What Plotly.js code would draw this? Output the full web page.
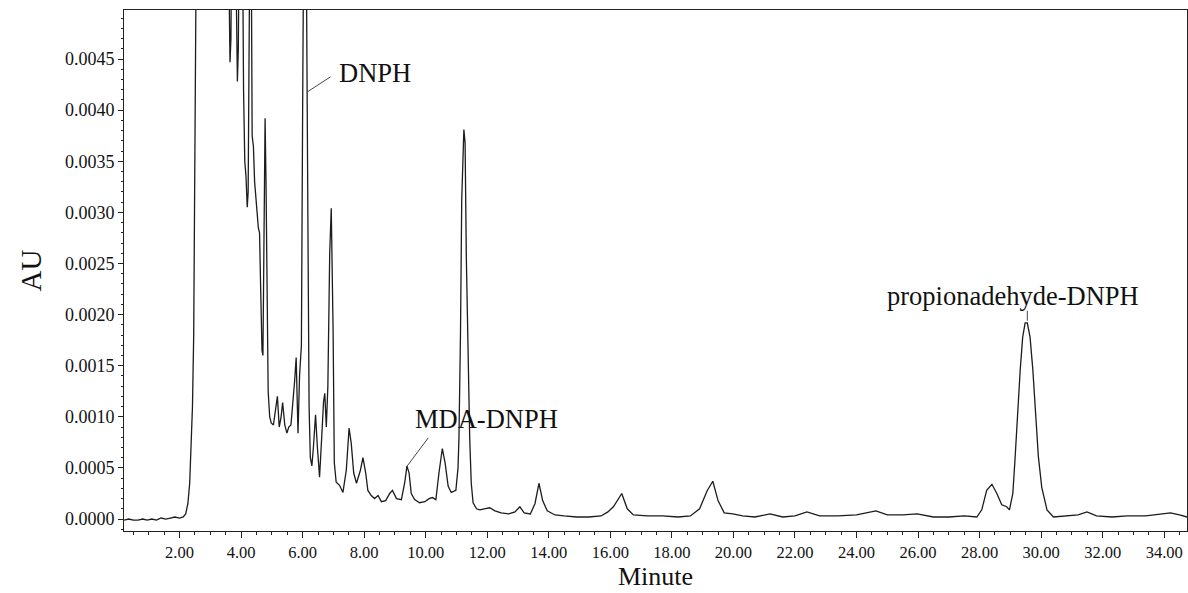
<!DOCTYPE html>
<html>
<head>
<meta charset="utf-8">
<script src="https://cdn.plot.ly/plotly-3.0.1.min.js"></script>
<style>html,body{margin:0;padding:0;background:#fff;}#chart{width:1188px;height:593px;}</style>
</head>
<body>
<div id="chart"></div>
<script>
// Retention time (min)
const retentionTime = [
 0.20,0.35,0.50,0.65,0.80,0.95,1.10,1.25,1.40,1.55,1.70,1.85,2.00,2.12,2.20,2.27,2.33,2.38,2.42,2.46,
 2.50,2.53,2.56,2.80,3.20,3.55,3.61,3.64,3.67,3.70,3.80,3.85,3.88,3.91,3.95,4.04,4.08,4.12,4.16,4.20,
 4.23,4.28,4.32,4.36,4.40,4.44,4.48,4.52,4.56,4.60,4.64,4.68,4.71,4.74,4.78,4.81,4.84,4.88,4.93,4.98,
 5.05,5.12,5.18,5.24,5.30,5.35,5.42,5.49,5.55,5.62,5.68,5.74,5.79,5.82,5.85,5.90,5.96,6.00,6.03,6.08,
 6.11,6.13,6.15,6.18,6.21,6.25,6.30,6.35,6.42,6.48,6.55,6.62,6.68,6.72,6.77,6.82,6.88,6.93,6.99,7.03,
 7.09,7.20,7.31,7.42,7.51,7.58,7.66,7.75,7.88,7.96,8.05,8.12,8.23,8.34,8.45,8.56,8.70,8.83,8.92,9.05,
 9.21,9.32,9.39,9.46,9.53,9.64,9.80,9.97,10.11,10.22,10.33,10.43,10.54,10.63,10.73,10.83,10.98,11.05,11.08,11.13,
 11.17,11.24,11.28,11.32,11.38,11.43,11.48,11.54,11.65,11.76,11.90,12.08,12.25,12.45,12.70,12.90,13.06,13.20,13.40,13.55,
 13.68,13.80,13.95,14.20,14.50,14.90,15.30,15.70,15.92,16.10,16.37,16.55,16.75,17.20,17.70,18.20,18.60,18.90,19.15,19.33,
 19.50,19.70,19.98,20.30,20.70,21.19,21.60,22.00,22.39,22.80,23.40,24.00,24.63,25.00,25.50,25.97,26.50,27.00,27.50,27.91,
 28.07,28.23,28.40,28.56,28.72,28.88,28.97,29.08,29.15,29.23,29.32,29.40,29.48,29.55,29.64,29.73,29.81,29.91,30.02,30.19,
 30.40,30.80,31.20,31.49,31.80,32.30,32.80,33.40,33.90,34.20,34.50,34.74
];
// Absorbance (AU) (values above 0.005 are off-scale)
const absorbance = [
 -0.00001,0.00000,-0.00001,-0.00001,0.00000,-0.00001,0.00000,-0.00001,0.00001,0.00000,0.00001,0.00002,0.00001,0.00002,0.00005,0.00015,0.00035,0.00075,0.00110,0.00180,
 0.00330,0.00500,0.00700,0.00900,0.00900,0.00700,0.00520,0.00447,0.00470,0.00600,0.00620,0.00480,0.00428,0.00460,0.00620,0.00600,0.00420,0.00350,0.00335,0.00305,
 0.00320,0.00550,0.00620,0.00375,0.00365,0.00330,0.00310,0.00300,0.00285,0.00280,0.00220,0.00165,0.00160,0.00300,0.00392,0.00330,0.00200,0.00125,0.00100,0.00094,
 0.00092,0.00105,0.00120,0.00090,0.00100,0.00114,0.00092,0.00084,0.00090,0.00092,0.00110,0.00135,0.00158,0.00120,0.00084,0.00140,0.00170,0.00400,0.00700,0.00800,
 0.00600,0.00420,0.00400,0.00250,0.00110,0.00060,0.00052,0.00070,0.00102,0.00070,0.00041,0.00080,0.00115,0.00123,0.00090,0.00130,0.00260,0.00304,0.00185,0.00055,
 0.00036,0.00033,0.00026,0.00048,0.00089,0.00074,0.00045,0.00035,0.00048,0.00060,0.00045,0.00028,0.00023,0.00020,0.00023,0.00017,0.00018,0.00025,0.00028,0.00020,
 0.00019,0.00036,0.00052,0.00045,0.00025,0.00019,0.00016,0.00017,0.00020,0.00021,0.00019,0.00045,0.00069,0.00055,0.00032,0.00026,0.00028,0.00050,0.00079,0.00182,
 0.00312,0.00381,0.00368,0.00256,0.00149,0.00079,0.00035,0.00016,0.00010,0.00009,0.00010,0.00011,0.00008,0.00006,0.00005,0.00007,0.00012,0.00006,0.00005,0.00015,
 0.00035,0.00018,0.00008,0.00004,0.00003,0.00002,0.00002,0.00003,0.00007,0.00012,0.00025,0.00010,0.00004,0.00003,0.00003,0.00002,0.00003,0.00010,0.00028,0.00037,
 0.00018,0.00006,0.00005,0.00003,0.00002,0.00005,0.00002,0.00003,0.00007,0.00003,0.00003,0.00004,0.00008,0.00004,0.00004,0.00005,0.00002,0.00002,0.00003,0.00002,
 0.00009,0.00028,0.00034,0.00025,0.00014,0.00012,0.00009,0.00025,0.00058,0.00104,0.00146,0.00178,0.00192,0.00192,0.00178,0.00146,0.00104,0.00061,0.00031,0.00009,
 0.00002,0.00003,0.00004,0.00007,0.00003,0.00002,0.00003,0.00003,0.00005,0.00006,0.00004,0.00002
];
// Peak labels
const peakLabels = ['DNPH', 'MDA-DNPH', 'propionadehyde-DNPH'];
const peakLabelTime = [6.16, 9.40, 29.55];
const peakLabelAbs = [0.00418, 0.00052, 0.00194];

const FONT = 'Liberation Serif, Times New Roman, serif';
const INK = '#222';

// leader line pixel offsets (dx right, dy up) and text offsets
const leader = [[23, 15], [21, 28], [0, 10]];
const textShift = [[29, 19, 'left'], [6, 47, 'left'], [-14, 25, 'center']];

const shapes = peakLabels.map((_, i) => ({
  type: 'line', xref: 'x', yref: 'y',
  xsizemode: 'pixel', ysizemode: 'pixel',
  xanchor: peakLabelTime[i], yanchor: peakLabelAbs[i],
  x0: 0, y0: 0, x1: leader[i][0], y1: leader[i][1],
  line: {color: '#444', width: 1}
}));

const annotations = peakLabels.map((txt, i) => ({
  x: peakLabelTime[i], y: peakLabelAbs[i], xref: 'x', yref: 'y',
  text: txt, showarrow: false,
  xanchor: textShift[i][2], yanchor: 'middle',
  xshift: textShift[i][0], yshift: textShift[i][1],
  font: {family: FONT, size: 26.5, color: '#111'}
}));

const trace = {
  x: retentionTime, y: absorbance, type: 'scatter', mode: 'lines',
  line: {color: '#1c1c1c', width: 1.3}, hoverinfo: 'skip'
};

const layout = {
  width: 1188, height: 593,
  margin: {l: 124, r: 1, t: 10, b: 62},
  paper_bgcolor: '#fff', plot_bgcolor: '#fff',
  showlegend: false,
  font: {family: FONT, color: '#111'},
  xaxis: {
    range: [0.195, 34.74], tickmode: 'linear', tick0: 2, dtick: 2, tickformat: '.2f',
    ticks: 'outside', ticklen: 6, tickcolor: INK, tickwidth: 1,
    showline: true, linecolor: INK, linewidth: 1, mirror: true,
    showgrid: false, zeroline: false,
    minor: {dtick: 0.5, ticks: 'outside', ticklen: 3, tickcolor: INK, showgrid: false},
    tickfont: {family: FONT, size: 16.5, color: '#111'},
    title: {text: 'Minute', font: {family: FONT, size: 26, color: '#111'}, standoff: 4}
  },
  yaxis: {
    range: [-0.000117, 0.00498], tickmode: 'linear', tick0: 0, dtick: 0.0005, tickformat: '.4f',
    ticks: 'outside', ticklen: 5, tickcolor: INK, tickwidth: 1,
    showline: true, linecolor: INK, linewidth: 1, mirror: true,
    showgrid: false, zeroline: false,
    minor: {dtick: 0.0001, ticks: 'outside', ticklen: 2, tickcolor: INK, showgrid: false},
    tickfont: {family: FONT, size: 18, color: '#111'},
    title: {text: 'AU', font: {family: FONT, size: 29, color: '#111'}, standoff: 14}
  },
  shapes: shapes,
  annotations: annotations
};

Plotly.newPlot('chart', [trace], layout, {staticPlot: true, displayModeBar: false});
</script>
</body>
</html>
